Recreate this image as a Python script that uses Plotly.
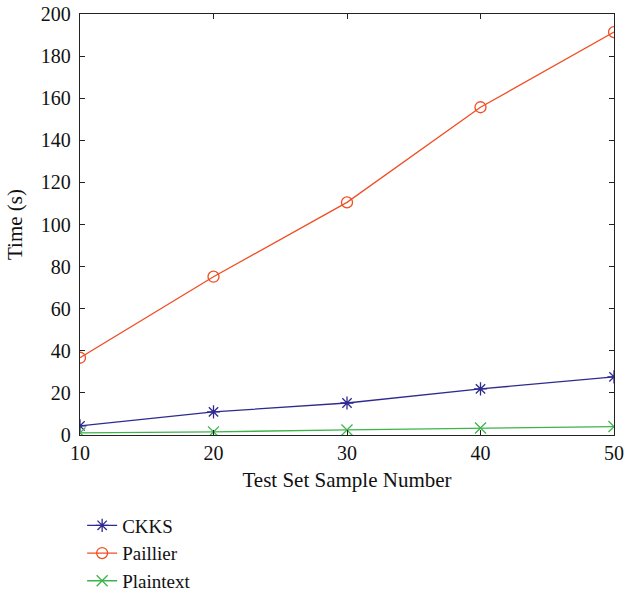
import plotly.graph_objects as go

x_vals = [10, 20, 30, 40, 50]
ckks = [4.3, 11.0, 15.2, 21.9, 27.6]
paillier = [36.7, 75.2, 110.5, 155.7, 191.4]
plaintext = [1.0, 1.5, 2.4, 3.3, 4.0]
y_ticks = [0, 20, 40, 60, 80, 100, 120, 140, 160, 180, 200]

FONT = "Liberation Serif"

fig = go.Figure()
fig.add_trace(go.Scatter(x=x_vals, y=ckks, name="CKKS", mode="lines+markers",
                         line=dict(color="#2e2a8f", width=1.3),
                         marker=dict(symbol="asterisk-open", size=11, color="#2e2a8f",
                                     line=dict(width=1.3, color="#2e2a8f"))))
fig.add_trace(go.Scatter(x=x_vals, y=paillier, name="Paillier", mode="lines+markers",
                         line=dict(color="#f04e23", width=1.3),
                         marker=dict(symbol="circle-open", size=11, color="#f04e23",
                                     line=dict(width=1.3, color="#f04e23"))))
fig.add_trace(go.Scatter(x=x_vals, y=plaintext, name="Plaintext", mode="lines+markers",
                         line=dict(color="#3cb44a", width=1.3),
                         marker=dict(symbol="x-thin-open", size=11, color="#3cb44a",
                                     line=dict(width=1.3, color="#3cb44a"))))

axis_common = dict(showline=True, linecolor="#222", linewidth=1.3, mirror="ticks",
                   ticks="inside", ticklen=5, tickcolor="#222", tickwidth=1,
                   showgrid=False, zeroline=False, automargin=False,
                   ticklabeloverflow="allow",
                   tickfont=dict(family=FONT, size=20, color="#111"))

fig.update_layout(
    width=625, height=591,
    margin=dict(l=80, r=11, t=14, b=156),
    paper_bgcolor="white", plot_bgcolor="white",
    font=dict(family=FONT, size=20, color="#111"),
    xaxis=dict(range=[10, 50], tickvals=x_vals,
               title=dict(text="Test Set Sample Number", font=dict(family=FONT, size=21), standoff=9),
               **axis_common),
    yaxis=dict(range=[0, 200], tickvals=y_ticks, ticklabelstandoff=4,
               title=dict(text="Time (s)", font=dict(family=FONT, size=21), standoff=12),
               **axis_common),
    legend=dict(xref="paper", yref="container", x=0.004, y=0.143,
                xanchor="left", yanchor="top",
                font=dict(family=FONT, size=19), bgcolor="rgba(0,0,0,0)",
                itemwidth=30, tracegroupgap=0),
    showlegend=True,
)

fig.write_html("out.html", config={"displayModeBar": False},
               post_script="document.body.style.margin='0';")
